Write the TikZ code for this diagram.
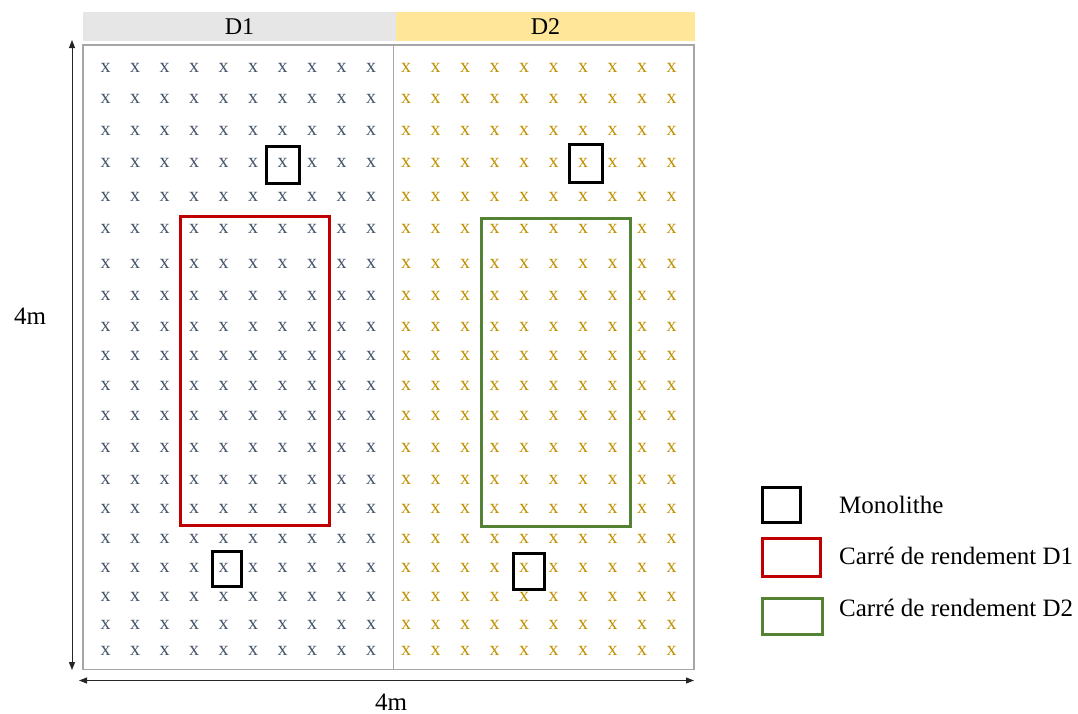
\documentclass[tikz,border=0pt]{standalone}
\usepackage{fontspec}
\setmainfont{Liberation Serif}
\usetikzlibrary{arrows.meta}
\definecolor{hdrgray}{HTML}{E7E6E6}
\definecolor{hdrgold}{HTML}{FFE699}
\definecolor{xblue}{HTML}{44546A}
\definecolor{xgold}{HTML}{BF9000}
\definecolor{redbox}{HTML}{C00000}
\definecolor{greenbox}{HTML}{548235}
\definecolor{framegray}{HTML}{A6A6A6}
\definecolor{arrowgray}{HTML}{262626}
\begin{document}
\begin{tikzpicture}[x=1pt,y=-1pt,
  hdr/.style={minimum height=29pt, inner sep=0pt, anchor=center, font=\fontsize{24}{24}\selectfont},
  xa/.style={text=xblue, inner sep=0pt, font=\fontsize{20}{20}\selectfont},
  xb/.style={text=xgold, inner sep=0pt, font=\fontsize{20}{20}\selectfont},
  lbl/.style={inner sep=0pt, font=\fontsize{25}{25}\selectfont},
  monobox/.style={draw=black, line width=3pt},
  redrect/.style={draw=redbox, line width=3pt},
  greenrect/.style={draw=greenbox, line width=3pt},
  dimarrow/.style={draw=arrowgray, line width=1pt, {Triangle[length=8pt,width=6pt]}-{Triangle[length=8pt,width=6pt]}}
]
\useasboundingbox (0,0) rectangle (1078,713);

% headers
\node[hdr, fill=hdrgray, minimum width=313pt] (h1) at (239.5,26.5) {D1};
\node[hdr, fill=hdrgold, minimum width=299.5pt] (h2) at (545.5,26.5) {D2};

% frame
\draw[framegray, line width=1.5pt] (83,45) rectangle (694,669.5);
\draw[framegray, line width=1.5pt] (393.5,45) -- (393.5,669.5);

% grid of x
\foreach \yy [count=\r] in {68,99,131,163,197,229,264,296,327,356,386,416,448,480,509,539,568,597,625,651} {
  \foreach \c in {0,...,9} {
    \node[xa] (a-\r-\c) at ({105.5+29.5*\c},\yy) {x};
    \node[xb] (b-\r-\c) at ({406+29.5*\c},\yy) {x};
  }
}

% yield squares
\draw[redrect] (180,216) rectangle (329,525.5);
\draw[greenrect] (481,218.5) rectangle (630,526);

% monoliths
\draw[monobox] (266,146) rectangle (299,183);
\draw[monobox] (569.5,144.5) rectangle (602,182.5);
\draw[monobox] (212.5,551) rectangle (241.5,586);
\draw[monobox] (513,553) rectangle (544.5,589.5);

% dimension arrows
\coordinate (vtop) at (72,40);
\coordinate (vbot) at (72,670);
\coordinate (hleft) at (79,680.5);
\coordinate (hright) at (694,680.5);
\draw[dimarrow] (vtop) -- (vbot);
\draw[dimarrow] (hleft) -- (hright);
\node[lbl] (lenv) at (30,316) {4m};
\node[lbl] (lenh) at (391,702) {4m};

% legend
\draw[monobox] (762,487.5) rectangle (800,522.5);
\draw[redrect] (762,538) rectangle (820.5,576);
\draw[greenrect] (762,598) rectangle (822.5,634.5);
\node[lbl, anchor=west] (leg1) at (839,505) {Monolithe};
\node[lbl, anchor=west] (leg2) at (839,556) {Carré de rendement D1};
\node[lbl, anchor=west] (leg3) at (839,608) {Carré de rendement D2};
\end{tikzpicture}
\end{document}
